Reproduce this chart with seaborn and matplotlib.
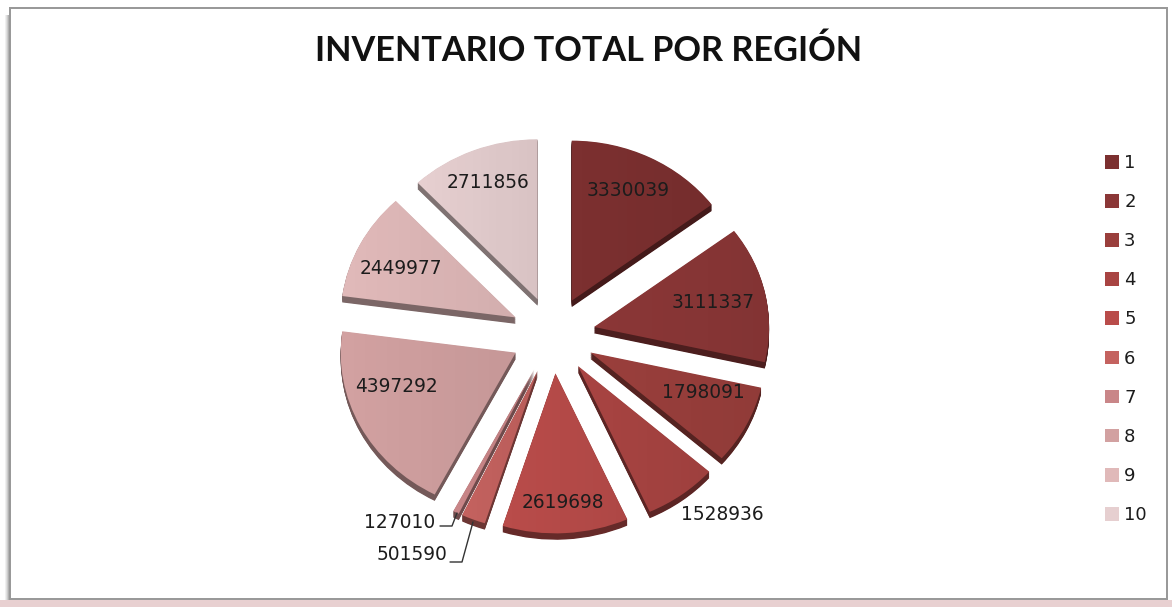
import numpy as np
import seaborn as sns
from matplotlib import pyplot as plt
from matplotlib.lines import Line2D
from matplotlib.patches import Rectangle

regions = ["1", "2", "3", "4", "5", "6", "7", "8", "9", "10"]
inventory = [3330039, 3111337, 1798091, 1528936, 2619698, 501590, 127010, 4397292, 2449977, 2711856]
slice_colors = ["#7c3030", "#8b3737", "#9a3f3c", "#a84442", "#b94c4a",
                "#c4625f", "#c98688", "#d2a1a1", "#e0b9b9", "#e6cfd0"]

# label centres in pixels, same order as inventory
label_x = [628, 713, 703, 722, 563, 412, 400, 397, 401, 488]
label_y = [191, 303, 392, 514, 503, 555, 523, 387, 268, 183]

W, H = 1172, 607
CX, CY = 553, 335
RX, RY = 175, 160

sns.set_theme(style="white")
plt.rcParams["font.family"] = "DejaVu Sans"
palette = sns.color_palette(slice_colors)
side_palette = [tuple(np.array(c) * 0.55) for c in palette]

fig = plt.figure(figsize=(W / 100, H / 100), dpi=100, facecolor="white")


def px_rect(x, y, w, h, **kw):
    fig.add_artist(Rectangle((x / W, 1 - (y + h) / H), w / W, h / H,
                             transform=fig.transFigure, lw=0, zorder=-1, **kw))


# window frame around the chart
px_rect(0, 600, W, 7, color="#e8d0d1")
for i, a in enumerate([0.06, 0.12, 0.2, 0.3, 0.42]):
    px_rect(5 + i, 15, 1, 585, color="black", alpha=a)
px_rect(10, 7, 1157, 593, facecolor="white", edgecolor="none")
px_rect(9, 7, 1159, 2, color="#999999")
px_rect(9, 7, 2, 593, color="#999999")
px_rect(1166, 7, 2, 593, color="#999999")
px_rect(9, 598, 1159, 2, color="#999999")

# axes scaled so one data unit is RX by RY pixels (tilted pie)
span = 1.5
ax = fig.add_axes([(CX - span * RX) / W, 1 - (CY + span * RY) / H,
                   2 * span * RX / W, 2 * span * RY / H])
explode = [0.24] * len(inventory)

# stacked copies below the top face give the 3D rim
for d in np.linspace(0.04, 0.004, 10):
    ax.pie(inventory, colors=side_palette, explode=explode, startangle=90,
           counterclock=False, center=(0, -d), wedgeprops={"linewidth": 0})
wedges, _ = ax.pie(inventory, colors=palette, explode=explode, startangle=90,
                   counterclock=False, wedgeprops={"linewidth": 0})

# soft shading on each top face
shade = np.zeros((1, 64, 4))
shade[..., 3] = np.linspace(0, 0.06, 64)
for w in wedges:
    bb = w.get_path().get_extents(w.get_patch_transform())
    im = ax.imshow(shade, extent=[bb.x0, bb.x1, bb.y0, bb.y1], aspect="auto", zorder=5)
    im.set_clip_path(w)

ax.set_xlim(-span, span)
ax.set_ylim(-span, span)
ax.set_aspect("auto")
ax.axis("off")

for x, y, val in zip(label_x, label_y, inventory):
    fig.text(x / W, 1 - y / H, str(val), ha="center", va="center",
             fontsize=13.4, color="#1c1c1c", zorder=10)

# leader lines for the two small slices
leader_x = [[440, 452, 457], [450, 462, 473]]
leader_y = [[526, 526, 513], [562, 562, 522]]
for xs, ys in zip(leader_x, leader_y):
    fig.add_artist(Line2D([x / W for x in xs], [1 - y / H for y in ys],
                          color="#333333", lw=1, transform=fig.transFigure, zorder=10))

fig.text(589 / W, 1 - 50.5 / H, "INVENTARIO TOTAL POR REGIÓN", ha="center", va="center",
         fontsize=24.7, fontweight="bold", family="Lato", color="#111111")

fig.legend(wedges, regions, loc="upper left", bbox_to_anchor=(1105 / W, 1 - 154 / H),
           frameon=False, fontsize=13, labelspacing=1.17, handlelength=0.78,
           handleheight=0.78, handletextpad=0.28, borderpad=0, borderaxespad=0,
           labelcolor="#1c1c1c")

fig.savefig("out.png", dpi=100)
